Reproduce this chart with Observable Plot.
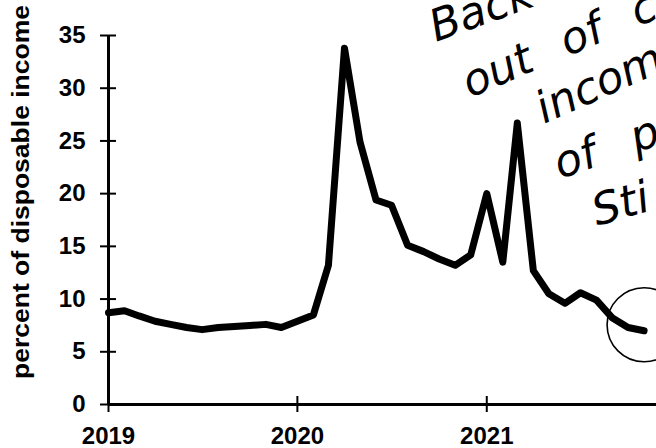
<!DOCTYPE html>
<html>
<head>
<meta charset="utf-8">
<script src="https://cdn.jsdelivr.net/npm/d3@7"></script>
<script src="https://cdn.jsdelivr.net/npm/@observablehq/plot@0.6"></script>
<style>
  html, body { margin: 0; padding: 0; background: #fff; }
  #wrap { position: relative; width: 656px; height: 448px; overflow: hidden; background: #fff; }
  #notes { position: absolute; left: 0; top: 0; pointer-events: none; }
  #notes text { font-family: "DejaVu Sans"; font-style: oblique; font-weight: 200; font-size: 44px; fill: #000; }
</style>
</head>
<body>
<div id="wrap"></div>
<script>
const months = ["2019-01-01","2019-02-01","2019-03-01","2019-04-01","2019-05-01","2019-06-01","2019-07-01","2019-08-01","2019-09-01","2019-10-01","2019-11-01","2019-12-01",
                "2020-01-01","2020-02-01","2020-03-01","2020-04-01","2020-05-01","2020-06-01","2020-07-01","2020-08-01","2020-09-01","2020-10-01","2020-11-01","2020-12-01",
                "2021-01-01","2021-02-01","2021-03-01","2021-04-01","2021-05-01","2021-06-01","2021-07-01","2021-08-01","2021-09-01","2021-10-01","2021-11-01"];
const savingRate = [8.7, 8.9, 8.4, 7.9, 7.6, 7.3, 7.1, 7.3, 7.4, 7.5, 7.6, 7.3,
                    7.9, 8.5, 13.2, 33.8, 24.9, 19.4, 18.9, 15.1, 14.5, 13.8, 13.2, 14.2,
                    20.0, 13.5, 26.7, 12.7, 10.5, 9.6, 10.6, 9.9, 8.2, 7.3, 7.0];
const yTicks = [0, 5, 10, 15, 20, 25, 30, 35];
const xTicks = ["2019-01-01", "2020-01-01", "2021-01-01"];
const xDomain = ["2019-01-01", "2021-11-25"];
const yLabel = "percent of disposable income";
const notes = ["Back", "out of c", "incom", "of p", "Sti"];

const data = months.map((m, i) => ({date: new Date(m), value: savingRate[i]}));
const xStart = new Date(xDomain[0]);
const xTickDates = xTicks.map(d => new Date(d));

const chart = Plot.plot({
  width: 656,
  height: 448,
  marginLeft: 108,
  marginRight: 0,
  marginTop: 35,
  marginBottom: 44,
  style: {fontFamily: "Liberation Sans, Arial, sans-serif", fontSize: "24px", fontWeight: "bold", color: "#000", background: "#fff", overflow: "visible"},
  x: {type: "utc", domain: xDomain.map(d => new Date(d))},
  y: {domain: [0, 35]},
  marks: [
    Plot.ruleY([0], {stroke: "#000", strokeWidth: 3}),
    Plot.ruleX([xStart], {y1: () => 0, y2: () => 35, stroke: "#000", strokeWidth: 3}),
    Plot.ruleY(yTicks, {y: d => d, x1: () => xStart, x2: () => xStart, insetLeft: -8, insetRight: -8, stroke: "#000", strokeWidth: 2}),
    Plot.ruleX(xTickDates, {x: d => d, y1: () => 0, y2: () => 0, insetTop: -8, insetBottom: -8, stroke: "#000", strokeWidth: 2}),
    Plot.axisY(yTicks, {tickSize: 0, tickPadding: 23, label: null}),
    Plot.axisX(xTickDates, {tickSize: 0, tickPadding: 22, tickFormat: d3.utcFormat("%Y"), label: null}),
    Plot.text([yLabel], {frameAnchor: "left", rotate: -90, dx: -87, dy: 159, textAnchor: "start", text: d => d, fontSize: 24, fontWeight: "bold"}),
    Plot.line(data, {x: "date", y: "value", stroke: "#000", strokeWidth: 7, strokeLinejoin: "round", strokeLinecap: "round"}),
    Plot.dot([data[data.length - 1]], {x: "date", y: "value", r: 37, dy: -6, stroke: "#000", strokeWidth: 1.6, fill: "none"})
  ]
});

const wrap = document.getElementById("wrap");
wrap.appendChild(chart);

d3.select(chart).selectAll("text").filter(function() { return this.textContent === yLabel; })
  .attr("textLength", 374).attr("lengthAdjust", "spacingAndGlyphs");

// handwritten-style notes (overlay)
const notePos = [
  {x: 436, y: 42, rot: -20, ws: 0},
  {x: 470, y: 98, rot: -23, ws: 20},
  {x: 544, y: 124, rot: -24, ws: 0},
  {x: 560, y: 179, rot: -19, ws: 24},
  {x: 597, y: 226, rot: -16, ws: 0}
];
const svgN = d3.select(wrap).append("svg").attr("id", "notes").attr("width", 656).attr("height", 448);
svgN.selectAll("text").data(notes).join("text")
  .attr("x", (d, i) => notePos[i].x)
  .attr("y", (d, i) => notePos[i].y)
  .attr("transform", (d, i) => `rotate(${notePos[i].rot},${notePos[i].x},${notePos[i].y})`)
  .style("word-spacing", (d, i) => notePos[i].ws + "px")
  .text(d => d);
</script>
</body>
</html>
